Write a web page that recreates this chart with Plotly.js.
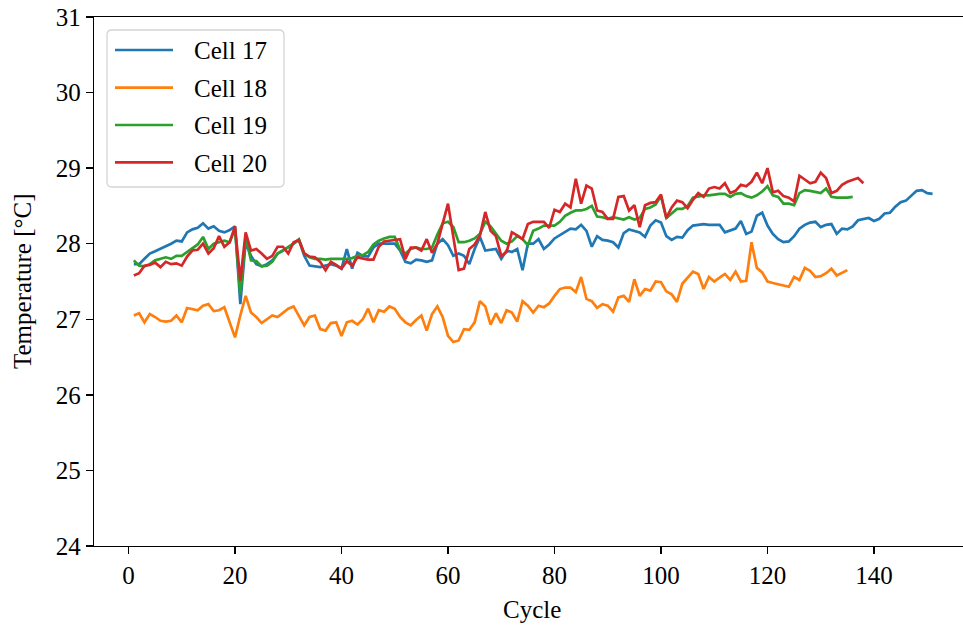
<!DOCTYPE html>
<html>
<head>
<meta charset="utf-8">
<script src="https://cdn.plot.ly/plotly-3.0.1.min.js"></script>
<style>
  html, body { margin: 0; padding: 0; background: #ffffff; }
  #chart { width: 963px; height: 628px; }
</style>
</head>
<body>
<div id="chart"></div>
<script>
// Mean cell temperature per cycle for four cells of the pack.
const firstCycle = 1;

const cell17 = [
  27.73, 27.73, 27.80, 27.87, 27.90, 27.93, 27.97, 28.00, 28.04, 28.03,
  28.15, 28.19, 28.21, 28.27, 28.20, 28.23, 28.17, 28.15, 28.18, 28.23,
  27.20, 28.02, 27.84, 27.73, 27.70, 27.73, 27.78, 27.87, 27.91, 27.95,
  28.00, 28.05, 27.84, 27.71, 27.70, 27.69, 27.71, 27.73, 27.71, 27.67,
  27.93, 27.67, 27.88, 27.84, 27.83, 27.95, 28.00, 28.00, 28.00, 28.00,
  27.91, 27.76, 27.74, 27.79, 27.78, 27.76, 27.78, 28.00, 28.06, 27.98,
  27.84, 27.87, 27.84, 27.73, 27.93, 28.09, 27.91, 27.92, 27.93, 27.80,
  27.91, 27.89, 27.93, 27.65, 28.00, 28.00, 28.06, 27.93, 27.99, 28.07,
  28.11, 28.16, 28.20, 28.19, 28.25, 28.17, 27.96, 28.10, 28.05, 28.04,
  28.02, 27.95, 28.14, 28.19, 28.17, 28.15, 28.09, 28.24, 28.31, 28.28,
  28.10, 28.05, 28.09, 28.08, 28.18, 28.24, 28.25, 28.26, 28.25, 28.25,
  28.25, 28.15, 28.18, 28.20, 28.30, 28.13, 28.16, 28.37, 28.41, 28.24,
  28.13, 28.06, 28.02, 28.03, 28.10, 28.20, 28.25, 28.28, 28.29, 28.22,
  28.25, 28.26, 28.13, 28.20, 28.19, 28.23, 28.31, 28.32, 28.34, 28.30,
  28.33, 28.40, 28.41, 28.49, 28.55, 28.57, 28.63, 28.70, 28.71, 28.67,
  28.66
];

const cell18 = [
  27.05, 27.08, 26.96, 27.07, 27.03, 26.98, 26.97, 26.98, 27.05, 26.96,
  27.15, 27.14, 27.12, 27.18, 27.20, 27.11, 27.12, 27.16, 26.96, 26.76,
  27.05, 27.31, 27.09, 27.03, 26.95, 27.00, 27.05, 27.03, 27.09, 27.14,
  27.17, 27.05, 26.92, 27.03, 27.05, 26.87, 26.85, 26.95, 26.96, 26.78,
  26.96, 26.98, 26.93, 27.00, 27.14, 26.96, 27.12, 27.10, 27.17, 27.14,
  27.03, 26.96, 26.92, 26.99, 27.05, 26.85, 27.07, 27.17, 27.03, 26.78,
  26.70, 26.72, 26.87, 26.86, 26.96, 27.24, 27.17, 26.93, 27.08, 26.95,
  27.12, 27.09, 26.97, 27.24, 27.18, 27.09, 27.18, 27.16, 27.21, 27.31,
  27.40, 27.42, 27.42, 27.36, 27.56, 27.27, 27.24, 27.15, 27.20, 27.18,
  27.10, 27.29, 27.31, 27.23, 27.53, 27.31, 27.40, 27.38, 27.50, 27.49,
  27.37, 27.33, 27.23, 27.47, 27.55, 27.63, 27.60, 27.40, 27.56, 27.50,
  27.55, 27.60, 27.52, 27.63, 27.50, 27.51, 28.02, 27.68, 27.62, 27.50,
  27.48, 27.46, 27.44, 27.43, 27.56, 27.52, 27.68, 27.64, 27.56, 27.57,
  27.61, 27.67, 27.58, 27.61, 27.65
];

const cell19 = [
  27.78, 27.71, 27.70, 27.73, 27.78, 27.80, 27.82, 27.80, 27.84, 27.84,
  27.89, 27.95, 27.99, 28.09, 27.93, 28.00, 28.02, 28.04, 28.02, 28.20,
  27.33, 28.09, 27.78, 27.77, 27.70, 27.71, 27.76, 27.87, 27.91, 27.95,
  28.00, 28.06, 27.87, 27.82, 27.80, 27.80, 27.79, 27.80, 27.80, 27.80,
  27.80, 27.81, 27.84, 27.85, 27.89, 27.99, 28.04, 28.07, 28.09, 28.09,
  27.92, 27.87, 27.93, 27.95, 27.93, 27.93, 27.95, 28.12, 28.27, 28.29,
  28.22, 28.02, 28.02, 28.04, 28.07, 28.13, 28.29, 28.23, 28.14, 28.04,
  28.00, 28.03, 28.10, 28.06, 27.98, 28.17, 28.20, 28.24, 28.24, 28.24,
  28.29, 28.37, 28.41, 28.44, 28.44, 28.46, 28.50, 28.36, 28.35, 28.33,
  28.35, 28.34, 28.32, 28.35, 28.32, 28.34, 28.46, 28.48, 28.52, 28.63,
  28.34, 28.40, 28.46, 28.46, 28.50, 28.61, 28.63, 28.64, 28.64, 28.65,
  28.66, 28.66, 28.62, 28.66, 28.67, 28.63, 28.61, 28.64, 28.69, 28.76,
  28.64, 28.62, 28.53, 28.53, 28.51, 28.67, 28.71, 28.70, 28.68, 28.67,
  28.73, 28.62, 28.61, 28.61, 28.61, 28.62
];

const cell20 = [
  27.58, 27.61, 27.71, 27.72, 27.75, 27.69, 27.76, 27.73, 27.74, 27.71,
  27.83, 27.91, 27.92, 28.00, 27.87, 27.94, 28.10, 27.96, 28.02, 28.23,
  27.51, 28.15, 27.91, 27.93, 27.87, 27.80, 27.84, 27.96, 27.96, 27.87,
  28.02, 28.05, 27.87, 27.83, 27.82, 27.76, 27.65, 27.76, 27.72, 27.67,
  27.77, 27.71, 27.82, 27.80, 27.79, 27.79, 27.96, 28.03, 28.04, 28.05,
  28.06, 27.80, 27.95, 27.95, 27.91, 28.06, 27.88, 28.00, 28.25, 28.53,
  28.09, 27.65, 27.67, 27.93, 27.99, 28.11, 28.42, 28.17, 28.10, 27.84,
  27.89, 28.15, 28.11, 28.06, 28.26, 28.29, 28.29, 28.29, 28.21, 28.45,
  28.42, 28.53, 28.48, 28.86, 28.53, 28.77, 28.73, 28.44, 28.42, 28.33,
  28.33, 28.62, 28.63, 28.44, 28.51, 28.22, 28.51, 28.54, 28.55, 28.65,
  28.34, 28.48, 28.57, 28.55, 28.47, 28.58, 28.67, 28.62, 28.73, 28.75,
  28.73, 28.80, 28.67, 28.70, 28.78, 28.76, 28.82, 28.94, 28.80, 29.00,
  28.68, 28.70, 28.63, 28.61, 28.56, 28.90, 28.85, 28.80, 28.82, 28.94,
  28.87, 28.67, 28.70, 28.78, 28.82, 28.85, 28.87, 28.80
];

const seriesNames = ["Cell 17", "Cell 18", "Cell 19", "Cell 20"];
const seriesValues = [cell17, cell18, cell19, cell20];
const seriesColors = ["#1f77b4", "#ff7f0e", "#2ca02c", "#d62728"];

const xTickValues = [0, 20, 40, 60, 80, 100, 120, 140];
const yTickValues = [24, 25, 26, 27, 28, 29, 30, 31];

// Figure geometry (pixels)
const W = 963, H = 628;
const M = { l: 94, r: 0, t: 17, b: 82 };
const plotW = W - M.l - M.r, plotH = H - M.t - M.b;
const fx = p => (p - M.l) / plotW;       // pixel x -> paper
const fy = p => 1 - (p - M.t) / plotH;   // pixel y -> paper

const FONT = "Liberation Serif, DejaVu Serif, serif";
const FS = 25;
const LW = 2.7;

const traces = seriesValues.map((vals, k) => ({
  type: "scatter",
  mode: "lines",
  name: seriesNames[k],
  x: vals.map((_, i) => firstCycle + i),
  y: vals,
  line: { color: seriesColors[k], width: LW },
  showlegend: false,
  hoverinfo: "skip"
}));

// Legend drawn as a framed box with line samples and labels
const shapes = [];
const annotations = [];
const box = { x0: 107, x1: 284, y0: 30, y1: 187, r: 5 };
const rx = box.r / plotW, ry = box.r / plotH;
const bx0 = fx(box.x0), bx1 = fx(box.x1), by0 = fy(box.y1), by1 = fy(box.y0);
shapes.push({
  type: "path", xref: "paper", yref: "paper",
  path: `M ${bx0 + rx},${by0} L ${bx1 - rx},${by0} Q ${bx1},${by0} ${bx1},${by0 + ry} ` +
        `L ${bx1},${by1 - ry} Q ${bx1},${by1} ${bx1 - rx},${by1} ` +
        `L ${bx0 + rx},${by1} Q ${bx0},${by1} ${bx0},${by1 - ry} ` +
        `L ${bx0},${by0 + ry} Q ${bx0},${by0} ${bx0 + rx},${by0} Z`,
  fillcolor: "rgba(255,255,255,0.8)",
  line: { color: "#d4d4d4", width: 1.3 },
  layer: "above"
});
const rowY = [50, 87.7, 125, 162.3];
seriesNames.forEach((nm, k) => {
  shapes.push({
    type: "line", xref: "paper", yref: "paper",
    x0: fx(115), x1: fx(173), y0: fy(rowY[k]), y1: fy(rowY[k]),
    line: { color: seriesColors[k], width: LW },
    layer: "above"
  });
  annotations.push({
    xref: "paper", yref: "paper",
    x: fx(192), y: fy(rowY[k] + 1),
    xanchor: "left", yanchor: "middle",
    text: nm, showarrow: false,
    font: { family: FONT, size: FS, color: "#000000" }
  });
});

// Axis titles
annotations.push({
  xref: "paper", yref: "paper",
  x: fx(532), y: fy(609), xanchor: "center", yanchor: "middle",
  text: "Cycle", showarrow: false,
  font: { family: FONT, size: FS, color: "#000000" }
});
annotations.push({
  xref: "paper", yref: "paper",
  x: fx(22), y: fy(281), xanchor: "center", yanchor: "middle",
  text: "Temperature [°C]", textangle: -90, showarrow: false,
  font: { family: FONT, size: FS, color: "#000000" }
});

const axisCommon = {
  showgrid: false, zeroline: false,
  showline: true, linecolor: "#000000", linewidth: 1.3,
  ticks: "outside", ticklen: 7, tickwidth: 1.3, tickcolor: "#000000",
  tickfont: { family: FONT, size: FS, color: "#000000" },
  fixedrange: true
};

const layout = {
  width: W, height: H,
  margin: M,
  paper_bgcolor: "#ffffff",
  plot_bgcolor: "#ffffff",
  showlegend: false,
  font: { family: FONT, size: FS, color: "#000000" },
  xaxis: Object.assign({}, axisCommon, {
    range: [(M.l - 128.5) / 5.325, (W - M.r - 128.5) / 5.325],
    tickmode: "array", tickvals: xTickValues,
    ticktext: xTickValues.map(String),
    mirror: true
  }),
  yaxis: Object.assign({}, axisCommon, {
    range: [24, 31],
    tickmode: "array", tickvals: yTickValues,
    ticktext: yTickValues.map(String),
    mirror: false
  }),
  shapes: shapes,
  annotations: annotations
};

Plotly.newPlot("chart", traces, layout, { staticPlot: true, displayModeBar: false });
</script>
</body>
</html>
